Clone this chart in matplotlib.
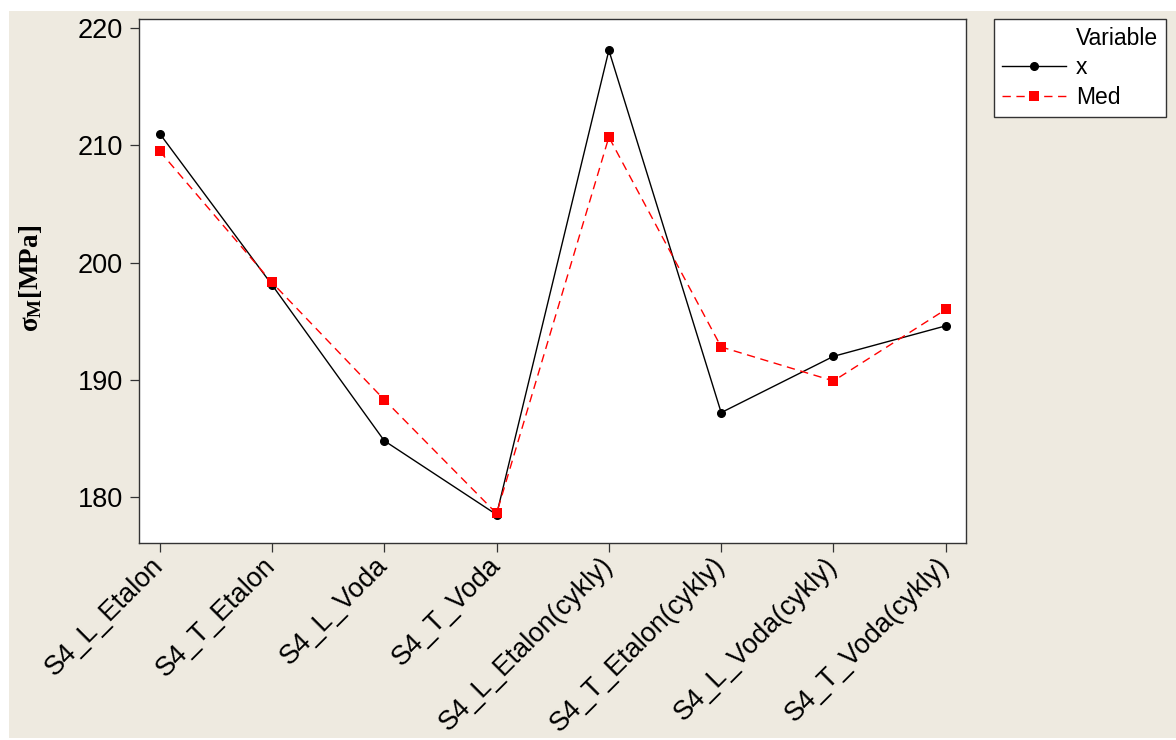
import matplotlib.pyplot as plt
from matplotlib.patches import Rectangle
from matplotlib.lines import Line2D

plt.rcParams['font.family'] = ['Liberation Sans', 'DejaVu Sans']
plt.rcParams['mathtext.fontset'] = 'custom'
plt.rcParams['mathtext.rm'] = 'Liberation Serif:bold'
plt.rcParams['mathtext.it'] = 'Liberation Serif:bold'
plt.rcParams['mathtext.bf'] = 'Liberation Serif:bold'

# vzorky a hodnoty napeti
samples = ['S4_L_Etalon', 'S4_T_Etalon', 'S4_L_Voda', 'S4_T_Voda',
           'S4_L_Etalon(cykly)', 'S4_T_Etalon(cykly)', 'S4_L_Voda(cykly)', 'S4_T_Voda(cykly)']
x_mean = [211.0, 198.1, 184.8, 178.5, 218.1, 187.2, 192.0, 194.6]
x_med = [209.5, 198.3, 188.3, 178.6, 210.7, 192.8, 189.9, 196.0]

W, H = 1176, 740
bg = '#eeeae0'

fig = plt.figure(figsize=(W / 100, H / 100), dpi=100, facecolor='white')
fig.patches.append(Rectangle((9 / W, 2 / H), 1 - 9 / W, (738 - 11) / H,
                             transform=fig.transFigure, facecolor=bg,
                             edgecolor='none', zorder=-10))

ax = fig.add_axes([139 / W, 1 - 543 / H, (966 - 139) / W, (543 - 19) / H])
ax.set_facecolor('white')

pos = list(range(len(samples)))
ax.plot(pos, x_mean, color='black', lw=1, marker='o', ms=5.5, label='x')
ax.plot(pos, x_med, color='red', lw=1, ls=(0, (6, 4)), marker='s', ms=6.5,
        markeredgewidth=0, label='Med')

ax.set_xlim(-0.184, 7.18)
ax.set_ylim(176.08, 220.77)
ax.set_yticks([180, 190, 200, 210, 220])
ax.set_xticks(pos)
ax.set_xticklabels(samples, rotation=45, ha='right', va='center',
                   rotation_mode='anchor')

for s in ax.spines.values():
    s.set_color('#333333')
    s.set_linewidth(1.0)
ax.tick_params(axis='both', direction='out', length=6.5, width=0.9,
               color='#333333', labelsize=19.5)
ax.tick_params(axis='y', pad=5)
ax.tick_params(axis='x', pad=7)

fig.text(31 / W, 1 - 278 / H, r'$\sigma_{\rm M}$[MPa]', rotation=90,
         ha='center', va='center', fontsize=19.5, fontweight='bold',
         family='Liberation Serif')

title_handle = Line2D([], [], linestyle='none', marker=None)
handles, labels = ax.get_legend_handles_labels()
leg = fig.legend([title_handle] + handles, ['Variable'] + labels,
                 loc='upper left', bbox_to_anchor=(994 / W, 1 - 19 / H),
                 borderaxespad=0, fontsize=16.5, numpoints=1,
                 handlelength=2.8, handletextpad=0.45, labelspacing=0.3,
                 borderpad=0.33, fancybox=False, framealpha=1,
                 edgecolor='#333333', facecolor='white')
leg.get_frame().set_linewidth(1.0)

fig.savefig('out.png', dpi=100, facecolor='white')
